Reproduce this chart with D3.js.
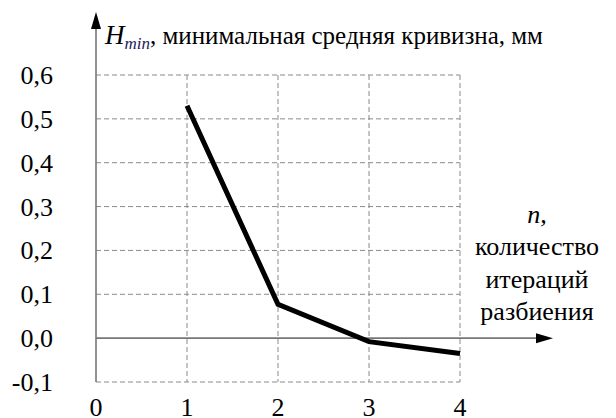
<!DOCTYPE html>
<html><head><meta charset="utf-8"><script src="https://cdn.jsdelivr.net/npm/d3@7"></script>
<style>
text, tspan { font-family: "Liberation Serif", "DejaVu Serif", serif !important; }
</style>
</head>
<body style="margin:0; font-family: 'Liberation Serif', serif">
<svg class="mysvg" width="616" height="418" style="display:block"></svg>
<script>
// data
var iterations = [1, 2, 3, 4];
var hmin = [0.53, 0.077, -0.008, -0.035];
var xTicks = [0, 1, 2, 3, 4];
var yTicks = [-0.1, 0, 0.1, 0.2, 0.3, 0.4, 0.5, 0.6];
var yTitle = ", минимальная средняя кривизна, мм";
var xTitle = ["количество", "итераций", "разбиения"];

var svg = d3.select(".mysvg");

var x = d3.scaleLinear().domain([0, 4]).range([96, 460]);
var y = d3.scaleLinear().domain([-0.1, 0.6]).range([382, 75]);

// comma decimals, plain hyphen for the minus sign
var fmt = function(v) { return v.toFixed(1).replace(".", ","); };

// dashed grid
var grid = svg.append("g")
    .attr("stroke", "#8a8a8a")
    .attr("stroke-width", 1)
    .attr("stroke-dasharray", "5,3")
    .attr("fill", "none");

grid.selectAll("line.h")
    .data(yTicks.filter(function(d) { return d !== 0; }))
    .enter().append("line")
    .attr("x1", x(0)).attr("x2", x(4))
    .attr("y1", function(d) { return y(d); })
    .attr("y2", function(d) { return y(d); });

grid.selectAll("line.v")
    .data(xTicks.filter(function(d) { return d !== 0; }))
    .enter().append("line")
    .attr("x1", function(d) { return x(d); })
    .attr("x2", function(d) { return x(d); })
    .attr("y1", y(0.6)).attr("y2", y(-0.1));

// axes with arrows
svg.append("line")
    .attr("x1", x(0)).attr("x2", x(0))
    .attr("y1", y(-0.1)).attr("y2", 24)
    .attr("stroke", "#777").attr("stroke-width", 1.6);
svg.append("path")
    .attr("d", "M" + x(0) + ",12 l-5,17 l10,0 z")
    .attr("fill", "#000");

svg.append("line")
    .attr("x1", x(0)).attr("x2", 540)
    .attr("y1", y(0)).attr("y2", y(0))
    .attr("stroke", "#777").attr("stroke-width", 1.6);
svg.append("path")
    .attr("d", "M553," + y(0) + " l-17,-5 l0,10 z")
    .attr("fill", "#000");

// tick labels
svg.selectAll("text.yl")
    .data(yTicks)
    .enter().append("text")
    .attr("class", "yl")
    .attr("x", 53)
    .attr("y", function(d) { return y(d) + 9; })
    .attr("text-anchor", "end")
    .attr("font-size", 26)
    .text(fmt);

svg.selectAll("text.xl")
    .data(xTicks)
    .enter().append("text")
    .attr("class", "xl")
    .attr("x", function(d) { return x(d); })
    .attr("y", 416)
    .attr("text-anchor", "middle")
    .attr("font-size", 26)
    .text(function(d) { return d; });

// curve
var line = d3.line()
    .x(function(d) { return x(d[0]); })
    .y(function(d) { return y(d[1]); });

svg.append("path")
    .datum(d3.zip(iterations, hmin))
    .attr("d", line)
    .attr("fill", "none")
    .attr("stroke", "#000")
    .attr("stroke-width", 5);

// axis titles
var t = svg.append("text")
    .attr("x", 105)
    .attr("y", 44)
    .attr("font-size", 25);
t.append("tspan").attr("font-style", "italic").attr("font-size", 27).text("H");
t.append("tspan").attr("font-style", "italic").attr("font-size", 17).attr("dy", 5).attr("fill", "#1c1c5a").text("min");
t.append("tspan").attr("dy", -5).text(yTitle);

svg.append("text")
    .attr("x", 537).attr("y", 223)
    .attr("text-anchor", "middle")
    .attr("font-size", 26)
    .attr("font-style", "italic")
    .text("n,");

svg.selectAll("text.xt")
    .data(xTitle)
    .enter().append("text")
    .attr("class", "xt")
    .attr("x", 537)
    .attr("y", function(d, i) { return 255 + i * 32.5; })
    .attr("text-anchor", "middle")
    .attr("font-size", 26)
    .text(function(d) { return d; });
</script></body></html>
